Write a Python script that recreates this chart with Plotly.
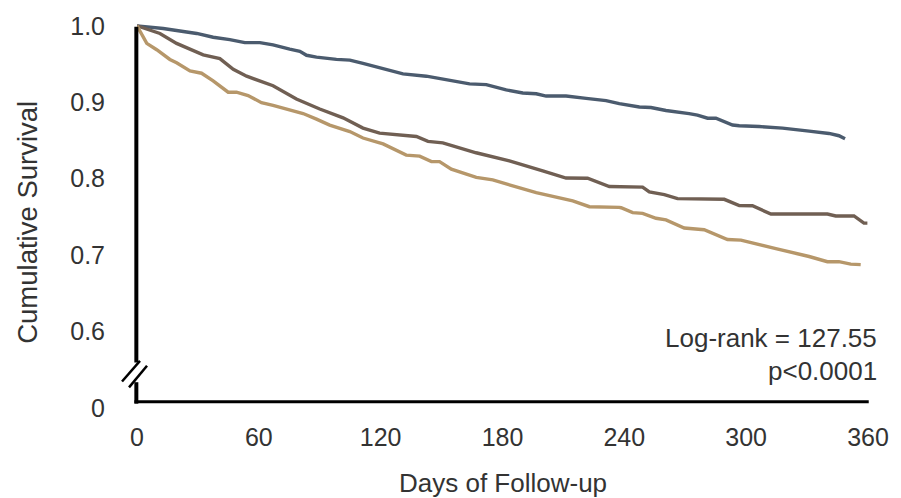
import plotly.graph_objects as go

# ---- data ----
blue_days = [0, 12.9, 29.4, 37.5, 45.7, 53.1, 60.5, 67.0, 75.2, 80.2, 83.5, 88.4, 98.2, 104.8, 111.3, 119.5,
             131, 142.5, 155.6, 163.8, 172, 181.8, 190, 196.6, 201.5, 211.3, 221.2, 231, 237.5, 240.8, 247.4,
             253.1, 260.5, 271.9, 276, 281, 285.1, 293.3, 296.6, 306.4, 317.9, 331, 340.8, 345.7, 348.7]
blue_surv = [1.0, 0.9965, 0.990, 0.985, 0.982, 0.978, 0.978, 0.975, 0.9695, 0.9666, 0.9614, 0.959, 0.956, 0.955,
             0.9507, 0.945, 0.937, 0.934, 0.928, 0.924, 0.923, 0.916, 0.912, 0.911, 0.908, 0.908, 0.905, 0.902,
             0.898, 0.8967, 0.8936, 0.893, 0.889, 0.885, 0.883, 0.879, 0.879, 0.870, 0.869, 0.868, 0.866, 0.862,
             0.859, 0.856, 0.852]

brown_days = [0, 11.3, 19.5, 32.6, 40.8, 47.4, 54, 67, 78.5, 90, 101.5, 111.3, 119.5, 137.6, 143.3, 150.6, 167,
              183.4, 199.8, 211.3, 221.9, 232.6, 249, 252.3, 259.7, 266.2, 289.2, 296.6, 303.1, 312.2, 340,
              344.1, 353.1, 358, 359.7]
brown_surv = [1.0, 0.990, 0.977, 0.962, 0.957, 0.943, 0.934, 0.9215, 0.904, 0.891, 0.8795, 0.866, 0.8594, 0.855,
              0.8486, 0.8466, 0.8337, 0.823, 0.810, 0.8006, 0.8003, 0.7895, 0.7887, 0.7823, 0.7788, 0.7736,
              0.7727, 0.7646, 0.7642, 0.7534, 0.7534, 0.7509, 0.7509, 0.7415, 0.7415]

tan_days = [0, 4.8, 9.7, 16.2, 19.5, 26.1, 31.8, 37.5, 44.9, 49, 54.7, 61.3, 67, 75.2, 81.8, 88.4, 94.9, 104.8,
            111.3, 119.5, 121.2, 132.6, 139.2, 145, 149, 154.8, 167.1, 175.2, 196.6, 214.6, 222.8, 237.5, 238.4,
            244.1, 249, 255.6, 260.5, 269.5, 279.3, 290.8, 297.4, 314.6, 331, 340, 345.7, 351.5, 356.4]
tan_surv = [1.0, 0.977, 0.9687, 0.9559, 0.9515, 0.9408, 0.9379, 0.928, 0.913, 0.913, 0.9087, 0.8993, 0.8958,
            0.8894, 0.8851, 0.8778, 0.870, 0.8615, 0.853, 0.8466, 0.8453, 0.8306, 0.8293, 0.8221, 0.8221, 0.8122,
            0.8015, 0.7981, 0.7814, 0.7707, 0.763, 0.7621, 0.7617, 0.7552, 0.7543, 0.7479, 0.7457, 0.7351,
            0.7329, 0.720, 0.7192, 0.708, 0.6978, 0.691, 0.691, 0.6878, 0.6871]

x_ticks = [0, 60, 120, 180, 240, 300, 360]
y_tick_vals = [0.4985, 0.6, 0.7, 0.8, 0.9, 1.0]
y_tick_text = ["0", "0.6", "0.7", "0.8", "0.9", "1.0"]

colors = {"blue": "#4b5b6e", "brown": "#705f53", "tan": "#b6976a"}
FONT = "Liberation Sans, Arial, sans-serif"
TXT = "#333333"

fig = go.Figure()
for d, s, c in [(blue_days, blue_surv, colors["blue"]),
                (brown_days, brown_surv, colors["brown"]),
                (tan_days, tan_surv, colors["tan"])]:
    fig.add_trace(go.Scatter(x=d, y=s, mode="lines", line=dict(color=c, width=3.4),
                             cliponaxis=False, showlegend=False, hoverinfo="skip"))

shapes = [
    # y-axis (upper and lower segments with a gap for the break)
    dict(type="line", xref="paper", yref="y", x0=-0.0009, x1=-0.0009, y0=0.5588, y1=0.9987,
         line=dict(color="black", width=4)),
    dict(type="line", xref="paper", yref="y", x0=-0.0009, x1=-0.0009, y0=0.5050, y1=0.5331,
         line=dict(color="black", width=4)),
    # x-axis
    dict(type="line", xref="paper", yref="y", x0=-0.0035, x1=1.001, y0=0.5074, y1=0.5074,
         line=dict(color="black", width=3)),
    # break marks
    dict(type="line", xref="paper", yref="paper", x0=-0.0205, y0=0.0711, x1=0.0041, y1=0.1244,
         line=dict(color="black", width=2.5)),
    dict(type="line", xref="paper", yref="paper", x0=-0.0109, y0=0.0558, x1=0.0137, y1=0.1117,
         line=dict(color="black", width=2.5)),
]

annotations = [
    dict(text="Log-rank = 127.55", xref="paper", yref="paper", x=1.015, y=0.183,
         xanchor="right", yanchor="middle", showarrow=False, font=dict(family=FONT, size=26, color=TXT)),
    dict(text="p&lt;0.0001", xref="paper", yref="paper", x=1.015, y=0.099,
         xanchor="right", yanchor="middle", showarrow=False, font=dict(family=FONT, size=26, color=TXT)),
    dict(text="Days of Follow-up", xref="paper", yref="paper", x=0.5, y=-0.19,
         xanchor="center", yanchor="middle", showarrow=False, font=dict(family=FONT, size=26, color=TXT)),
    dict(text="Cumulative Survival", xref="paper", yref="paper", x=-0.150, y=0.482, textangle=-90,
         xanchor="center", yanchor="middle", showarrow=False, font=dict(family=FONT, size=27.5, color=TXT)),
]

fig.update_layout(
    width=901, height=498,
    margin=dict(l=137, r=32, t=15, b=89),
    paper_bgcolor="white", plot_bgcolor="white",
    shapes=shapes, annotations=annotations,
    xaxis=dict(range=[0, 360], tickvals=x_ticks, showgrid=False, zeroline=False, showline=False,
               ticks="outside", ticklen=6, tickcolor="rgba(0,0,0,0)",
               tickfont=dict(family=FONT, size=25, color=TXT)),
    yaxis=dict(range=[0.498, 1.005], tickvals=y_tick_vals, ticktext=y_tick_text, showgrid=False,
               zeroline=False, showline=False, ticks="outside", ticklen=26, tickcolor="rgba(0,0,0,0)",
               tickfont=dict(family=FONT, size=25, color=TXT)),
)

fig.write_html("out.html")
